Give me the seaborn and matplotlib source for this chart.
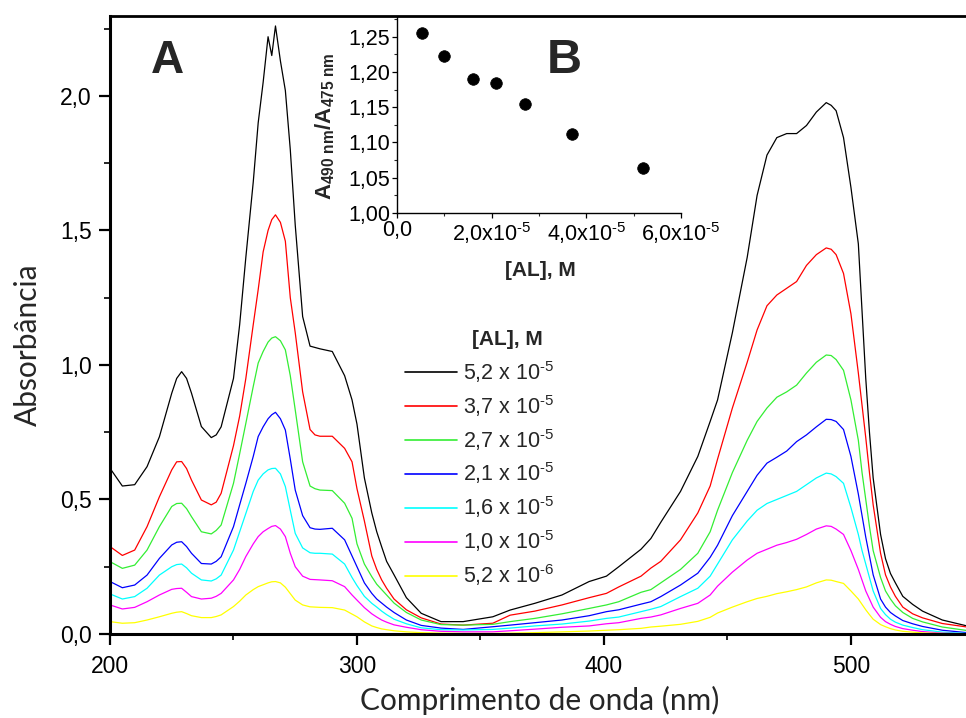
import matplotlib
matplotlib.use("Agg")
import matplotlib.pyplot as plt
from matplotlib.lines import Line2D
import numpy as np
import pandas as pd
import seaborn as sns

# ---------------- data ----------------
wavelength = [200, 205, 210, 215, 220, 225, 227, 229, 231, 233, 237, 241, 243, 245,
              250, 252.5, 255, 258, 260, 262, 264, 265.5, 267, 269, 271, 273, 275, 278,
              281, 283, 285, 290, 295, 298, 300, 303, 306, 308, 310, 312, 315, 320, 326,
              334, 343, 355, 362, 372, 383, 394, 401, 406, 415, 419, 423, 431, 438, 443,
              446, 452, 458, 462, 466, 470, 474, 478, 482, 486, 490, 492, 494, 497, 500,
              503, 504.5, 506, 507.5, 509, 512, 514, 516, 518, 521, 525, 529, 537, 547]

abs_52e5 = [0.616, 0.55, 0.555, 0.622, 0.733, 0.895, 0.95, 0.975, 0.95, 0.895,
            0.771, 0.730, 0.74, 0.77, 0.95, 1.15, 1.40, 1.68, 1.90,
            2.05, 2.22, 2.15, 2.26, 2.13, 2.02, 1.80, 1.52, 1.18, 1.07,
            1.065, 1.06, 1.05, 0.96, 0.87, 0.78, 0.58, 0.45, 0.38, 0.324,
            0.27, 0.22, 0.135, 0.077, 0.046, 0.046, 0.064, 0.089, 0.114, 0.145,
            0.195, 0.215, 0.25, 0.315, 0.355, 0.415, 0.53, 0.66, 0.79, 0.87,
            1.12, 1.40, 1.63, 1.78, 1.845, 1.86, 1.86, 1.89, 1.94, 1.975,
            1.965, 1.945, 1.845, 1.66, 1.45, 1.20, 0.95, 0.75, 0.58, 0.37,
            0.28, 0.225, 0.19, 0.14, 0.11, 0.085, 0.052, 0.03]
abs_37e5 = [0.325, 0.292, 0.312, 0.399, 0.51, 0.61, 0.64, 0.641, 0.615, 0.572,
            0.498, 0.48, 0.49, 0.523, 0.70, 0.81, 0.95, 1.15, 1.28,
            1.42, 1.50, 1.54, 1.558, 1.53, 1.46, 1.25, 1.12, 0.90, 0.76,
            0.74, 0.735, 0.735, 0.69, 0.64, 0.54, 0.42, 0.29, 0.24, 0.201,
            0.17, 0.13, 0.09, 0.06, 0.037, 0.033, 0.04, 0.07, 0.085, 0.108,
            0.135, 0.151, 0.175, 0.215, 0.245, 0.27, 0.35, 0.45, 0.55, 0.65,
            0.84, 1.01, 1.13, 1.22, 1.26, 1.285, 1.31, 1.37, 1.41, 1.435,
            1.43, 1.41, 1.34, 1.19, 0.97, 0.85, 0.73, 0.60, 0.48, 0.30,
            0.22, 0.175, 0.14, 0.10, 0.075, 0.06, 0.039, 0.026]
abs_27e5 = [0.269, 0.244, 0.256, 0.312, 0.399, 0.474, 0.485, 0.486, 0.466, 0.436,
            0.38, 0.372, 0.385, 0.405, 0.56, 0.67, 0.783, 0.92, 1.007,
            1.05, 1.085, 1.10, 1.105, 1.09, 1.056, 0.96, 0.833, 0.64, 0.55,
            0.54, 0.535, 0.533, 0.486, 0.43, 0.335, 0.26, 0.213, 0.185, 0.165,
            0.145, 0.115, 0.08, 0.052, 0.035, 0.033, 0.036, 0.046, 0.058, 0.075,
            0.095, 0.108, 0.12, 0.155, 0.165, 0.19, 0.24, 0.30, 0.38, 0.46,
            0.60, 0.72, 0.79, 0.84, 0.88, 0.90, 0.925, 0.97, 1.01, 1.037,
            1.035, 1.02, 0.98, 0.87, 0.72, 0.60, 0.50, 0.40, 0.31, 0.21,
            0.16, 0.13, 0.105, 0.08, 0.058, 0.045, 0.026, 0.013]
abs_21e5 = [0.195, 0.172, 0.182, 0.219, 0.281, 0.331, 0.341, 0.343, 0.325, 0.30,
            0.262, 0.26, 0.27, 0.287, 0.399, 0.48, 0.56, 0.66, 0.734,
            0.77, 0.80, 0.815, 0.824, 0.80, 0.758, 0.65, 0.535, 0.44, 0.395,
            0.39, 0.389, 0.393, 0.35, 0.29, 0.25, 0.19, 0.151, 0.13, 0.115,
            0.10, 0.08, 0.052, 0.032, 0.022, 0.017, 0.027, 0.033, 0.042, 0.052,
            0.068, 0.083, 0.09, 0.111, 0.12, 0.139, 0.182, 0.226, 0.285, 0.33,
            0.44, 0.53, 0.59, 0.635, 0.657, 0.68, 0.715, 0.74, 0.77, 0.798,
            0.797, 0.79, 0.76, 0.66, 0.52, 0.44, 0.36, 0.29, 0.22, 0.13,
            0.10, 0.08, 0.067, 0.05, 0.038, 0.028, 0.014, 0.005]
abs_16e5 = [0.149, 0.130, 0.139, 0.17, 0.219, 0.25, 0.258, 0.26, 0.246, 0.226,
            0.201, 0.197, 0.205, 0.219, 0.312, 0.38, 0.448, 0.53, 0.572,
            0.595, 0.61, 0.615, 0.616, 0.595, 0.548, 0.46, 0.374, 0.32, 0.302,
            0.30, 0.30, 0.297, 0.26, 0.21, 0.18, 0.14, 0.114, 0.10, 0.085,
            0.072, 0.055, 0.038, 0.023, 0.016, 0.015, 0.017, 0.022, 0.03, 0.037,
            0.048, 0.058, 0.063, 0.083, 0.092, 0.102, 0.139, 0.17, 0.215, 0.26,
            0.35, 0.42, 0.46, 0.485, 0.50, 0.515, 0.53, 0.555, 0.58, 0.598,
            0.595, 0.585, 0.56, 0.47, 0.37, 0.31, 0.26, 0.21, 0.16, 0.095,
            0.072, 0.055, 0.044, 0.033, 0.024, 0.016, 0.007, 0.002]
abs_10e5 = [0.108, 0.093, 0.099, 0.12, 0.145, 0.166, 0.169, 0.17, 0.155, 0.139,
            0.13, 0.133, 0.14, 0.151, 0.201, 0.24, 0.288, 0.335, 0.362,
            0.38, 0.392, 0.40, 0.403, 0.39, 0.362, 0.30, 0.25, 0.215, 0.203,
            0.202, 0.201, 0.198, 0.176, 0.145, 0.126, 0.098, 0.075, 0.063, 0.052,
            0.044, 0.034, 0.025, 0.016, 0.01, 0.008, 0.008, 0.012, 0.018, 0.025,
            0.03, 0.038, 0.042, 0.058, 0.063, 0.071, 0.095, 0.114, 0.145, 0.178,
            0.23, 0.275, 0.30, 0.315, 0.33, 0.34, 0.352, 0.37, 0.39, 0.402,
            0.40, 0.39, 0.37, 0.31, 0.24, 0.20, 0.16, 0.13, 0.10, 0.062,
            0.046, 0.036, 0.028, 0.02, 0.014, 0.009, 0.003, 0.001]
abs_52e6 = [0.046, 0.04, 0.042, 0.052, 0.064, 0.077, 0.081, 0.083, 0.076, 0.068,
            0.061, 0.061, 0.065, 0.071, 0.102, 0.122, 0.145, 0.165, 0.176,
            0.183, 0.19, 0.194, 0.195, 0.19, 0.174, 0.15, 0.126, 0.108, 0.101,
            0.1, 0.099, 0.098, 0.089, 0.074, 0.064, 0.045, 0.03, 0.024, 0.019,
            0.016, 0.012, 0.008, 0.005, 0.003, 0.002, 0.002, 0.003, 0.005, 0.008,
            0.011, 0.014, 0.016, 0.021, 0.026, 0.029, 0.036, 0.047, 0.062, 0.078,
            0.10, 0.12, 0.132, 0.14, 0.15, 0.157, 0.165, 0.175, 0.19, 0.201,
            0.2, 0.195, 0.188, 0.16, 0.13, 0.11, 0.09, 0.072, 0.055, 0.035,
            0.027, 0.02, 0.015, 0.01, 0.007, 0.004, 0.002, 0.001]

series_labels = [r"5,2 x 10$^{\text{-5}}$", r"3,7 x 10$^{\text{-5}}$", r"2,7 x 10$^{\text{-5}}$",
                 r"2,1 x 10$^{\text{-5}}$", r"1,6 x 10$^{\text{-5}}$", r"1,0 x 10$^{\text{-5}}$",
                 r"5,2 x 10$^{\text{-6}}$"]
series_values = [abs_52e5, abs_37e5, abs_27e5, abs_21e5, abs_16e5, abs_10e5, abs_52e6]
series_colors = ["#000000", "#ff0000", "#33ee33", "#0000ff", "#00ffff", "#ff00ff", "#ffff00"]

# inset B
inset_conc = [5.2e-6, 1.0e-5, 1.6e-5, 2.1e-5, 2.7e-5, 3.7e-5, 5.2e-5]
inset_ratio = [1.256, 1.222, 1.190, 1.184, 1.154, 1.112, 1.064]

main_xticks = [200, 300, 400, 500]
main_yticks = [0.0, 0.5, 1.0, 1.5, 2.0]
main_ytick_labels = ["0,0", "0,5", "1,0", "1,5", "2,0"]
inset_xticks = [0, 2e-5, 4e-5, 6e-5]
inset_xtick_labels = ["0,0", r"2,0x10$^{\text{-5}}$", r"4,0x10$^{\text{-5}}$",
                      r"6,0x10$^{\text{-5}}$"]
inset_yticks = [1.00, 1.05, 1.10, 1.15, 1.20, 1.25]
inset_ytick_labels = ["1,00", "1,05", "1,10", "1,15", "1,20", "1,25"]

# ---------------- style ----------------
sns.set_style("ticks")
plt.rcParams["font.family"] = ["Liberation Sans", "DejaVu Sans"]
plt.rcParams["mathtext.fontset"] = "custom"
plt.rcParams["mathtext.rm"] = "Liberation Sans"
plt.rcParams["mathtext.it"] = "Liberation Sans:italic"
plt.rcParams["mathtext.bf"] = "Liberation Sans:bold"

W, H = 966, 718
fig = plt.figure(figsize=(W / 100, H / 100), dpi=100)
fig.patch.set_facecolor("white")

ax = fig.add_axes([110 / W, (H - 634) / H, 858 / W, 618 / H])

df = pd.concat(
    [pd.DataFrame({"wl": wavelength, "A": vals, "conc": lab})
     for lab, vals in zip(series_labels, series_values)],
    ignore_index=True)

sns.lineplot(data=df, x="wl", y="A", hue="conc", hue_order=series_labels,
             palette=dict(zip(series_labels, series_colors)), estimator=None,
             linewidth=0.9, ax=ax, legend=False)

ax.set_xlim(200, 547.4)
ax.set_ylim(0, 2.297)
ax.set_xticks(main_xticks, [str(t) for t in main_xticks])
ax.set_xticks([250, 350, 450], minor=True)
ax.set_yticks(main_yticks, main_ytick_labels)
ax.set_yticks([0.25, 0.75, 1.25, 1.75, 2.25], minor=True)
ax.tick_params(which="major", direction="out", length=8, width=1.6,
               labelsize=16.5, pad=5, colors="black")
ax.tick_params(which="minor", direction="out", length=4.5, width=1.4)
ax.tick_params(axis="x", which="major", pad=7)
ax.set_xlabel("")
ax.set_ylabel("")
for s in ["left", "bottom"]:
    ax.spines[s].set_linewidth(2.2)
ax.spines["top"].set_linewidth(2.0)
ax.spines["right"].set_visible(False)
for s in ax.spines.values():
    s.set_color("black")

fig.text(28 / W, 1 - 345 / H, "Absorbância", rotation=90, ha="center", va="center",
         fontsize=21.5, family=["Lato", "DejaVu Sans"])
fig.text(540 / W, 1 - 700 / H, "Comprimento de onda (nm)", ha="center", va="center",
         fontsize=21.5, family=["Lato", "DejaVu Sans"])

fig.text(167 / W, 1 - 73 / H, "A", ha="center", va="baseline", fontsize=33,
         fontweight="bold")
fig.text(564 / W, 1 - 73 / H, "B", ha="center", va="baseline", fontsize=35,
         fontweight="bold")

handles = [Line2D([], [], color=c, lw=1.2) for c in series_colors]
ax.legend(handles, series_labels, loc="upper left", bbox_to_anchor=(405 / W, 1 - 359 / H),
          bbox_transform=fig.transFigure, frameon=False, fontsize=15.5,
          handlelength=2.4, handletextpad=0.3, labelspacing=0.37,
          borderpad=0, borderaxespad=0)
fig.text(507 / W, 1 - 340 / H, "[AL], M", ha="center", va="center", fontsize=15,
         fontweight="bold")

# ---------------- inset ----------------
axin = fig.add_axes([397 / W, (H - 213) / H, 284 / W, 196 / H])
axin.patch.set_alpha(0)
sns.scatterplot(x=inset_conc, y=inset_ratio, color="black", s=70, edgecolor="black",
                linewidth=0.5, ax=axin, zorder=3)
axin.set_xlim(0, 6e-5)
axin.set_ylim(1.0, 1.278)
axin.set_xticks(inset_xticks, inset_xtick_labels)
axin.set_xticks([1e-5, 3e-5, 5e-5], minor=True)
axin.set_yticks(inset_yticks, inset_ytick_labels)
axin.set_yticks([1.025, 1.075, 1.125, 1.175, 1.225, 1.275], minor=True)
axin.tick_params(which="major", direction="out", length=3.5, width=0.9, labelsize=15.5,
                 pad=1.5, colors="black")
axin.tick_params(which="minor", direction="out", length=2, width=0.8)
axin.spines["top"].set_visible(False)
axin.spines["right"].set_visible(False)
for s in ["left", "bottom"]:
    axin.spines[s].set_linewidth(1.0)
    axin.spines[s].set_color("black")
axin.set_xlabel("")
axin.set_ylabel("")

fig.text(540 / W, 1 - 270 / H, "[AL], M", ha="center", va="center", fontsize=15,
         fontweight="bold")
fig.text(325 / W, 1 - 126 / H, r"A$_{\mathbf{490\ nm}}$/A$_{\mathbf{475\ nm}}$",
         rotation=90, ha="center", va="center", fontsize=16, fontweight="bold")

fig.savefig("out.png", dpi=100, facecolor="white")
